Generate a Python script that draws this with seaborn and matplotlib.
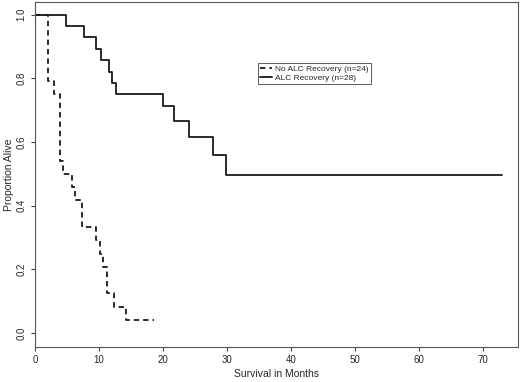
import numpy as np
import pandas as pd
import matplotlib
matplotlib.use('Agg')
import matplotlib.pyplot as plt
import seaborn as sns

# Kaplan-Meier step points
no_alc_months = [0, 2.1, 3.0, 3.9, 4.4, 5.8, 6.3, 7.3, 9.6, 10.2, 10.6, 11.3, 12.4, 14.2, 18.6]
no_alc_surv = [1.0, 0.792, 0.75, 0.542, 0.5, 0.458, 0.417, 0.333, 0.292, 0.25, 0.208, 0.125, 0.083, 0.042, 0.042]

alc_months = [0, 4.8, 7.7, 9.5, 10.3, 11.6, 12.0, 12.6, 20.0, 21.8, 24.1, 27.8, 29.8, 73.0]
alc_surv = [1.0, 0.964, 0.929, 0.893, 0.857, 0.821, 0.786, 0.75, 0.714, 0.666, 0.615, 0.559, 0.497, 0.497]

groups = ['No ALC Recovery (n=24)', 'ALC Recovery (n=28)']

df = pd.concat([
    pd.DataFrame({'months': no_alc_months, 'surv': no_alc_surv, 'group': groups[0]}),
    pd.DataFrame({'months': alc_months, 'surv': alc_surv, 'group': groups[1]}),
], ignore_index=True)

sns.set_style('ticks')
plt.rcParams['font.family'] = ['Liberation Sans', 'DejaVu Sans']

fig = plt.figure(figsize=(5.2, 3.82), dpi=100)
ax = fig.add_axes([0.0673, 0.092, 0.929, 0.903])

sns.lineplot(data=df, x='months', y='surv', hue='group', style='group',
             hue_order=groups, style_order=groups,
             palette={groups[0]: '#1a1a1a', groups[1]: '#1a1a1a'},
             dashes={groups[0]: (3, 2.2), groups[1]: ''},
             drawstyle='steps-post', linewidth=1.3, estimator=None,
             sort=False, ax=ax)

ax.set_xlim(0, 75.5)
ax.set_ylim(-0.043, 1.04)
ax.set_xticks(np.arange(0, 80, 10))
ax.set_yticks([0.0, 0.2, 0.4, 0.6, 0.8, 1.0])
ax.set_yticklabels(['0.0', '0.2', '0.4', '0.6', '0.8', '1.0'], rotation=90, va='center')
ax.tick_params(axis='both', labelsize=7, length=3, width=0.8, color='#444444', pad=3)
ax.set_xlabel('Survival in Months', fontsize=7.5, labelpad=3)
ax.set_ylabel('Proportion Alive', fontsize=7.5, labelpad=2)
for s in ax.spines.values():
    s.set_color('#555555')
    s.set_linewidth(0.8)

leg = ax.legend(loc='upper left', bbox_to_anchor=(0.4617, 0.823),
                fontsize=6, frameon=True, fancybox=False, handlelength=1.4,
                borderpad=0.25, labelspacing=0.1, handletextpad=0.4,
                borderaxespad=0)
leg.get_frame().set_edgecolor('#333333')
leg.get_frame().set_linewidth(0.7)

fig.savefig('out.png', dpi=100)
